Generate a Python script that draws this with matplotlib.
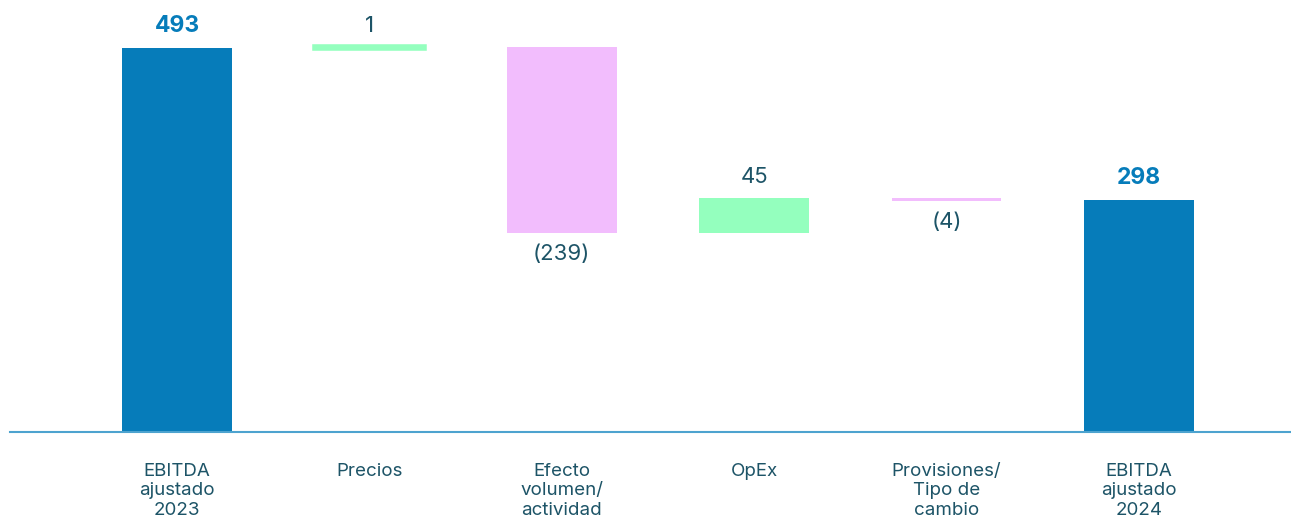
import matplotlib.pyplot as plt
from matplotlib.transforms import blended_transform_factory

# EBITDA bridge 2023 -> 2024 (millions)
categories = ["EBITDA\najustado\n2023", "Precios", "Efecto\nvolumen/\nactividad",
              "OpEx", "Provisiones/\nTipo de\ncambio", "EBITDA\najustado\n2024"]
changes = [493, 1, -239, 45, -4, 298]
kinds = ["total", "delta", "delta", "delta", "delta", "total"]
labels = ["493", "1", "(239)", "45", "(4)", "298"]

BLUE = "#067CBA"
GREEN = "#94FFBE"
PINK = "#F2BDFD"
TEXT = "#1D5467"
AXIS = "#4DA3CF"

plt.rcParams["font.family"] = ["Inter", "DejaVu Sans"]

fig = plt.figure(figsize=(12.91, 5.18), dpi=100)
ax = fig.add_axes([10 / 1291, (518 - 432) / 518, 1 - 10 / 1291, 432 / 518])

level = 0
for i, (v, k, lab) in enumerate(zip(changes, kinds, labels)):
    if k == "total":
        bottom, height, color = 0, v, BLUE
        level = v
    else:
        bottom, height = level, v
        color = GREEN if v > 0 else PINK
        level += v
    ax.bar(i, height, bottom=bottom, width=0.57, color=color,
           edgecolor=color, linewidth=4 if abs(v) < 3 else 0)
    top = max(bottom, bottom + height)
    low = min(bottom, bottom + height)
    if k == "total":
        ax.annotate(lab, (i, top), xytext=(0, 16), textcoords="offset points",
                    ha="center", va="center", fontsize=16.5, fontweight="bold",
                    color=BLUE)
    elif v > 0:
        ax.annotate(lab, (i, top), xytext=(0, 15), textcoords="offset points",
                    ha="center", va="center", fontsize=16, color=TEXT)
    else:
        ax.annotate(lab, (i, low), xytext=(0, -15), textcoords="offset points",
                    ha="center", va="center", fontsize=16, color=TEXT)

trans = blended_transform_factory(ax.transData, ax.transAxes)
for i, cat in enumerate(categories):
    ax.annotate(cat, (i, 0), xycoords=trans, xytext=(0, -22),
                textcoords="offset points", ha="center", va="top",
                fontsize=13.5, color=TEXT, linespacing=1.2)

ax.set_xlim(-0.868, 5.79)
ax.set_ylim(0, 554.6)
for s in ["top", "right", "left"]:
    ax.spines[s].set_visible(False)
ax.spines["bottom"].set_color(AXIS)
ax.spines["bottom"].set_linewidth(1.5)
ax.set_xticks([])
ax.set_yticks([])

fig.savefig("out.png", dpi=100)
